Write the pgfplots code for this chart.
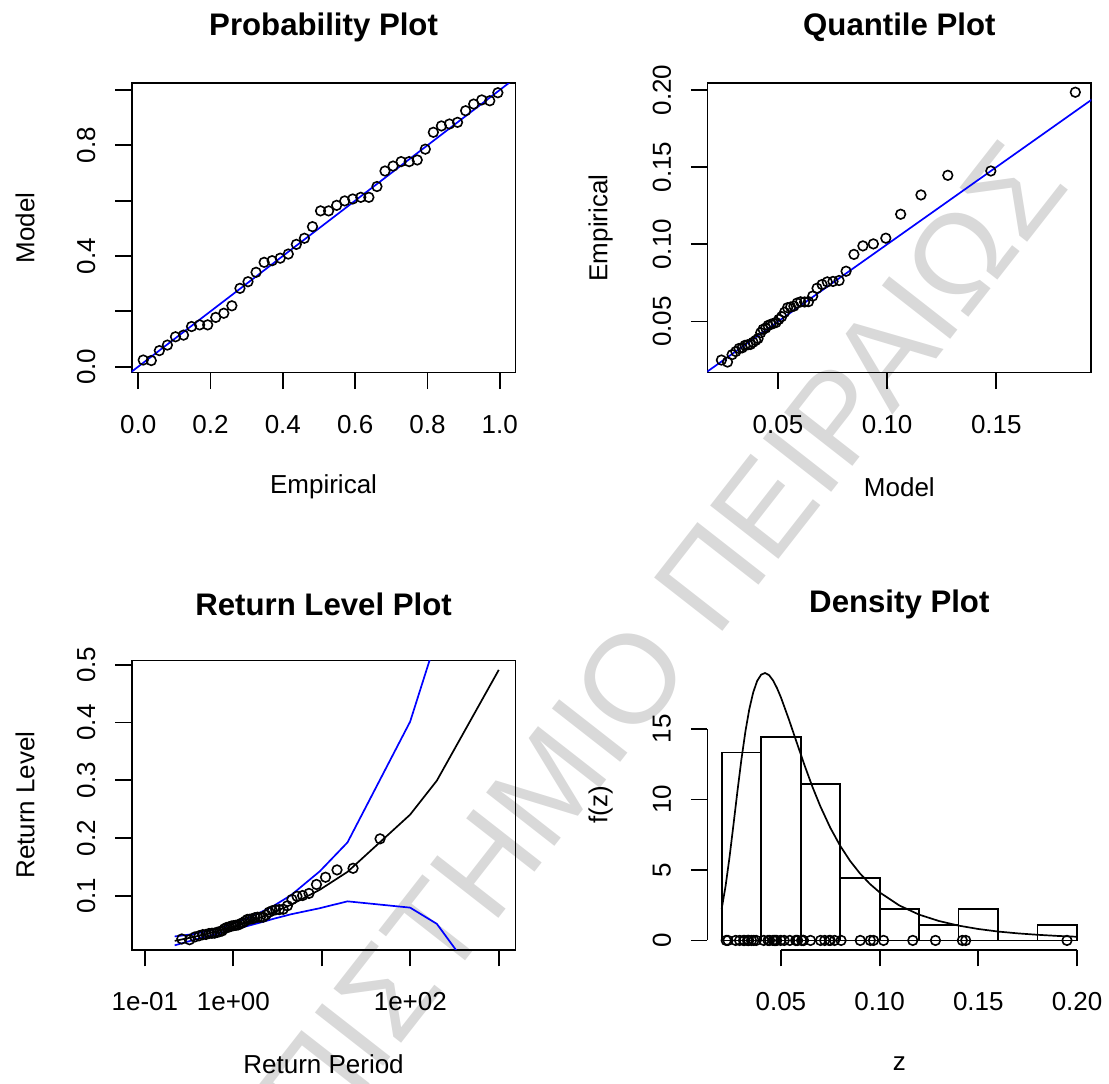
\documentclass[border=0pt]{standalone}
\usepackage{fontspec}
\setmainfont{Liberation Sans}
\usepackage{pgfplots}
\pgfplotsset{compat=1.18}
\definecolor{rblue}{RGB}{0,0,255}
\definecolor{wm}{RGB}{217,217,217}
\pgfplotsset{
  rpanel/.style={
    scale only axis, width=192pt, height=144.7pt,
    anchor=south west,
    tick pos=left, tick align=outside,
    major tick length=8.3pt,
    xminorticks=false, yminorticks=false,
    every tick/.style={black, line width=0.9pt},
    axis line style={line width=0.9pt},
    tick label style={font=\fontsize{13pt}{15pt}\selectfont},
    label style={font=\fontsize{13pt}{15pt}\selectfont},
    xticklabel style={anchor=center, yshift=-17.5pt},
    yticklabel style={rotate=90, anchor=center},
    yticklabel shift=14.5pt,
    xlabel style={at={(axis description cs:0.5,-0.3954)}, anchor=center},
    ylabel style={at={(axis description cs:-0.2779,0.5)}, anchor=center},
    title style={at={(axis description cs:0.5,1.152)}, anchor=center, font=\fontsize{15.6pt}{18pt}\selectfont\bfseries},
  },
  rpts/.style={only marks, mark=o, mark size=2.4pt, black, mark options={line width=0.8pt}},
}
\begin{document}
\begin{tikzpicture}
\path (0,0) rectangle (554.5pt,542pt);
\node[overlay, rotate=52, text=wm, font=\fontsize{63pt}{63pt}\selectfont] at (277pt,153pt) {ΠΑΝΕΠΙΣΤΗΜΙΟ ΠΕΙΡΑΙΩΣ};

% ---------------- Probability Plot
\begin{axis}[rpanel, at={(65.85pt,355.65pt)},
  xmin=-0.0182, xmax=1.0434, ymin=-0.0213, ymax=1.0242,
  xtick={0,0.2,0.4,0.6,0.8,1}, xticklabels={0.0,0.2,0.4,0.6,0.8,1.0},
  ytick={0,0.2,0.4,0.6,0.8,1}, yticklabels={0.0,,0.4,,0.8,},
  title={Probability Plot}, xlabel={Empirical}, ylabel={Model}]
\addplot[rblue, line width=0.85pt] coordinates {(-0.1,-0.1) (1.1,1.1)};
\addplot[rpts] coordinates {
(0.0138,0.024)(0.0361,0.022)(0.0584,0.058)(0.0807,0.078)(0.1030,0.108)
(0.1253,0.114)(0.1475,0.145)(0.1698,0.151)(0.1921,0.151)(0.2144,0.178)
(0.2367,0.193)(0.2590,0.220)(0.2813,0.283)(0.3036,0.307)(0.3259,0.341)
(0.3482,0.377)(0.3704,0.383)(0.3927,0.392)(0.4150,0.407)(0.4373,0.442)
(0.4596,0.464)(0.4819,0.506)(0.5042,0.563)(0.5265,0.563)(0.5488,0.583)
(0.5711,0.599)(0.5933,0.606)(0.6156,0.612)(0.6379,0.612)(0.6602,0.651)
(0.6825,0.707)(0.7048,0.725)(0.7271,0.741)(0.7494,0.741)(0.7717,0.747)
(0.7940,0.786)(0.8162,0.847)(0.8385,0.870)(0.8608,0.877)(0.8831,0.883)
(0.9054,0.925)(0.9277,0.949)(0.9500,0.964)(0.9723,0.961)(0.9946,0.990)};
\end{axis}

% ---------------- Quantile Plot
\begin{axis}[rpanel, at={(353.85pt,355.65pt)},
  xmin=0.0177, xmax=0.1935, ymin=0.0170, ymax=0.2043,
  xtick={0.05,0.10,0.15}, xticklabels={0.05,0.10,0.15},
  ytick={0.05,0.10,0.15,0.20}, yticklabels={0.05,0.10,0.15,0.20},
  title={Quantile Plot}, xlabel={Model}, ylabel={Empirical}]
\addplot[rblue, line width=0.85pt] coordinates {(0,0) (0.3,0.3)};
\addplot[rpts] coordinates {
(0.0241,0.0251)(0.0269,0.0238)(0.0290,0.0286)(0.0307,0.0306)(0.0322,0.0326)
(0.0336,0.0330)(0.0349,0.0346)(0.0362,0.0350)(0.0374,0.0352)(0.0386,0.0366)
(0.0398,0.0378)(0.0409,0.0390)(0.0421,0.0428)(0.0432,0.0450)(0.0444,0.0458)
(0.0455,0.0475)(0.0467,0.0482)(0.0479,0.0488)(0.0491,0.0494)(0.0504,0.0514)
(0.0517,0.0532)(0.0530,0.0560)(0.0544,0.0590)(0.0558,0.0594)(0.0573,0.0600)
(0.0588,0.0620)(0.0604,0.0628)(0.0622,0.0627)(0.0640,0.0629)(0.0659,0.0665)
(0.0679,0.0716)(0.0702,0.0740)(0.0726,0.0757)(0.0752,0.0760)(0.0780,0.0766)
(0.0812,0.0826)(0.0848,0.0935)(0.0889,0.0990)(0.0937,0.1003)(0.0994,0.1040)
(0.1062,0.1195)(0.1155,0.1320)(0.1278,0.1447)(0.1475,0.1475)(0.1862,0.1985)};
\end{axis}

% ---------------- Return Level Plot
\begin{axis}[rpanel, at={(65.85pt,66.95pt)}, xmode=log,
  xmin=0.0708, xmax=1545, ymin=0.0065, ymax=0.5074,
  xtick={0.1,1,10,100,1000}, xticklabels={1e-01,1e+00,,1e+02,},
  minor xtick={},
  ytick={0.1,0.2,0.3,0.4,0.5}, yticklabels={0.1,0.2,0.3,0.4,0.5},
  title={Return Level Plot}, xlabel={Return Period}, ylabel={Return Level}]
\addplot[black, line width=0.85pt] coordinates {
(0.2171,0.0218)(0.2556,0.0240)(0.2852,0.0255)(0.3107,0.0267)(0.3338,0.0277)
(0.3554,0.0286)(0.3760,0.0295)(0.3959,0.0303)(0.4153,0.0310)(0.4343,0.0317)
(0.6213,0.0377)(0.8306,0.0430)(1.0913,0.0484)(1.4427,0.0544)(1.9576,0.0615)
(2.8037,0.0708)(4.4814,0.0844)(9.4912,0.1104)(19.496,0.1413)(99.499,0.2404)
(199.50,0.2993)(999.50,0.4910)};
\addplot[rblue, line width=0.85pt] coordinates {
(0.2171,0.0295)(0.2556,0.0308)(0.2852,0.0317)(0.3107,0.0325)(0.3338,0.0332)
(0.3554,0.0338)(0.3760,0.0345)(0.3959,0.0352)(0.4153,0.0358)(0.4343,0.0364)
(0.6213,0.0422)(0.8306,0.0478)(1.0913,0.0540)(1.4427,0.0612)(1.9576,0.0700)
(2.8037,0.0818)(4.4814,0.1009)(9.4912,0.1424)(19.496,0.1923)(99.499,0.4014)
(199.50,0.5473)(999.50,1.0770)};
\addplot[rblue, line width=0.85pt] coordinates {
(0.2171,0.0141)(0.2556,0.0172)(0.2852,0.0193)(0.3107,0.0209)(0.3338,0.0222)
(0.3554,0.0234)(0.3760,0.0245)(0.3959,0.0254)(0.4153,0.0262)(0.4343,0.0270)
(0.6213,0.0332)(0.8306,0.0382)(1.0913,0.0428)(1.4427,0.0476)(1.9576,0.0530)
(2.8037,0.0598)(4.4814,0.0679)(9.4912,0.0784)(19.496,0.0903)(99.499,0.0794)
(199.50,0.0513)(999.50,-0.0950)};
\addplot[rpts] coordinates {
(0.2612,0.0251)(0.3189,0.0238)(0.3663,0.0286)(0.4095,0.0306)(0.4506,0.0326)
(0.4910,0.0330)(0.5312,0.0346)(0.5717,0.0350)(0.6130,0.0352)(0.6553,0.0366)
(0.6990,0.0378)(0.7442,0.0390)(0.7913,0.0428)(0.8407,0.0450)(0.8925,0.0458)
(0.9470,0.0475)(1.0046,0.0482)(1.0659,0.0488)(1.1310,0.0494)(1.2006,0.0514)
(1.2753,0.0532)(1.3557,0.0560)(1.4428,0.0590)(1.5373,0.0594)(1.6401,0.0600)
(1.7528,0.0620)(1.8769,0.0628)(2.0145,0.0627)(2.1678,0.0629)(2.3397,0.0665)
(2.5342,0.0716)(2.7556,0.0740)(3.0111,0.0757)(3.3091,0.0760)(3.6590,0.0766)
(4.0800,0.0826)(4.5935,0.0935)(5.2356,0.0990)(6.0606,0.1003)(7.1582,0.1040)
(8.6957,0.1195)(11.001,0.1320)(14.837,0.1447)(22.523,0.1475)(45.496,0.1985)};
\end{axis}

% ---------------- Density Plot
\begin{axis}[rpanel, at={(353.85pt,66.95pt)}, clip=false,
  axis line style={draw=none},
  xmin=0.0128, xmax=0.2072, ymin=-0.66, ymax=19.86,
  xtick={0.05,0.10,0.15,0.20}, xticklabels={0.05,0.10,0.15,0.20},
  ytick={0,5,10,15}, yticklabels={0,5,10,15},
  title={Density Plot}, xlabel={z}, ylabel={f(z)}]
\addplot[black, line width=0.9pt] coordinates {(0.05,-0.66) (0.20,-0.66)};
\addplot[black, line width=0.9pt] coordinates {(0.0128,0) (0.0128,15)};
\addplot[ybar interval, draw=black, fill=none, line width=0.9pt] coordinates {
(0.02,13.333)(0.04,14.444)(0.06,11.111)(0.08,4.444)(0.10,2.222)
(0.12,1.111)(0.14,2.222)(0.16,0)(0.18,1.111)(0.20,1.111)};
\addplot[black, line width=0.85pt] coordinates {
(0.020,2.22)(0.022,3.86)(0.024,5.91)(0.026,8.22)(0.028,10.58)(0.030,12.82)
(0.032,14.79)(0.034,16.40)(0.036,17.60)(0.038,18.41)(0.040,18.85)(0.042,18.97)
(0.044,18.82)(0.046,18.45)(0.048,17.91)(0.050,17.25)(0.054,15.70)(0.058,14.05)
(0.062,12.42)(0.066,10.89)(0.070,9.51)(0.075,8.00)(0.080,6.72)(0.085,5.65)
(0.090,4.76)(0.095,4.02)(0.100,3.41)(0.110,2.48)(0.120,1.83)(0.130,1.38)
(0.140,1.05)(0.150,0.81)(0.160,0.63)(0.170,0.50)(0.180,0.40)(0.190,0.32)
(0.200,0.26)};
\addplot[rpts] coordinates {
(0.0232,0)(0.0223,0)(0.0271,0)(0.0291,0)(0.0311,0)(0.0315,0)(0.0331,0)(0.0335,0)
(0.0337,0)(0.0351,0)(0.0363,0)(0.0375,0)(0.0413,0)(0.0435,0)(0.0443,0)(0.0460,0)
(0.0467,0)(0.0473,0)(0.0479,0)(0.0499,0)(0.0517,0)(0.0545,0)(0.0575,0)(0.0579,0)
(0.0585,0)(0.0605,0)(0.0613,0)(0.0612,0)(0.0614,0)(0.0650,0)(0.0701,0)(0.0722,0)
(0.0745,0)(0.0750,0)(0.0772,0)(0.0805,0)(0.0902,0)(0.0953,0)(0.0969,0)(0.1020,0)
(0.1168,0)(0.1283,0)(0.1419,0)(0.1436,0)(0.1949,0)};
\end{axis}
\end{tikzpicture}
\end{document}
